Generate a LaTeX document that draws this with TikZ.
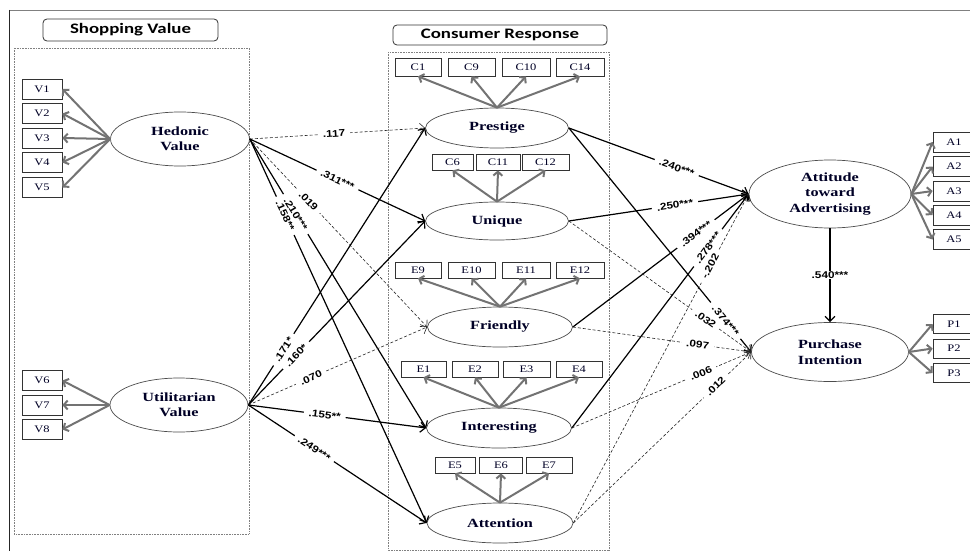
\documentclass[tikz,border=0pt]{standalone}
\usepackage{fontspec}
\setmainfont{Liberation Serif}
\newfontfamily\nodefnt{Liberation Serif Bold}[FakeStretch=1.3]
\newfontfamily\indfnt{Liberation Serif}[FakeStretch=1.25]
\newfontfamily\labfnt{Liberation Sans Bold}[FakeStretch=1.2]
\newfontfamily\titfnt{Carlito Bold}[FakeStretch=1.3]
\usetikzlibrary{arrows.meta,shapes.geometric}
\begin{document}
\begin{tikzpicture}[x=1pt,y=-1pt,
  lat/.style={ellipse, draw=black!70, line width=0.7pt, inner sep=0pt, align=center,
    font=\nodefnt\fontsize{12.5}{15.5}\selectfont, text=black!85!blue},
  ind/.style={rectangle, draw=black!80, line width=0.7pt, inner sep=0pt, minimum height=16pt,
    font=\indfnt\fontsize{10}{12}\selectfont, text=black!85!blue},
  titbox/.style={rectangle, rounded corners=4pt, draw=black!80, line width=0.8pt, inner sep=0pt,
    font=\titfnt\fontsize{14.5}{17}\selectfont},
  sol/.style={draw=black, line width=1.2pt, -{Straight Barb[length=5pt,width=10pt]}},
  dsh/.style={draw=black!85, line width=0.6pt, dash pattern=on 3pt off 2pt, -{Straight Barb[length=5pt,width=10pt]}},
  mea/.style={draw=black!55, line width=2pt, -{Straight Barb[length=4pt,width=9pt]}},
  lab/.style={sloped, fill=white, inner xsep=5pt, inner ysep=0.5pt,
    font=\labfnt\fontsize{9.8}{10}\selectfont},
  frm/.style={draw=black!50, line width=0.8pt, dash pattern=on 0.8pt off 0.8pt}
]
\useasboundingbox (0,0) rectangle (970,551);
\fill[white] (0,0) rectangle (970,551);
% outer frame
\draw[black!50, line width=0.8pt] (9,10) -- (975,10);
\draw[black!85, line width=1pt] (9,10) -- (9,560);
% group frames
\draw[frm] (14,48) rectangle (249,534);
\draw[frm] (388,52) rectangle (609,550);
\node[titbox, minimum width=175pt, minimum height=22pt] (tsv) at (130.5,30) {Shopping Value};
\node[titbox, minimum width=214pt, minimum height=20pt] (tcr) at (500,35) {Consumer Response};

% latent variables
\node[lat, minimum width=139pt, minimum height=54pt] (hed) at (180,139) {Hedonic\\Value};
\node[lat, minimum width=138pt, minimum height=54pt] (uti) at (179,405) {Utilitarian\\Value};
\node[lat, minimum width=143pt, minimum height=40pt] (pre) at (497,128) {Prestige};
\node[lat, minimum width=143pt, minimum height=38pt] (uni) at (497,221) {Unique};
\node[lat, minimum width=145pt, minimum height=40pt] (fri) at (500,327) {Friendly};
\node[lat, minimum width=145pt, minimum height=40pt] (int) at (499,428) {Interesting};
\node[lat, minimum width=146pt, minimum height=40pt] (att) at (500,523) {Attention};
\node[lat, minimum width=162pt, minimum height=68pt] (atd) at (830,194) {Attitude\\toward\\Advertising};
\node[lat, minimum width=157pt, minimum height=59pt] (pur) at (830,352) {Purchase\\Intention};

% indicators
\foreach \n/\y in {V1/89,V2/113.5,V3/138,V4/162.5,V5/187.5,V6/380.5,V7/405,V8/429.5}
  \node[ind, minimum width=40pt, minimum height=20pt] (\n) at (42,\y) {\n};
\foreach \n/\x/\w in {C1/418/46,C9/471.5/47,C10/526/48,C14/580/48}
  \node[ind, minimum width=\w pt, minimum height=18pt] (\n) at (\x,67) {\n};
\foreach \n/\x/\w in {C6/452.5/41,C11/498/44,C12/545.5/47}
  \node[ind, minimum width=\w pt] (\n) at (\x,162) {\n};
\foreach \n/\x/\w in {E9/418/46,E10/471.5/47,E11/526/48,E12/580/48}
  \node[ind, minimum width=\w pt] (\n) at (\x,270) {\n};
\foreach \n/\x/\w in {E1/423.5/45,E2/475/46,E3/526.5/47,E4/579/46}
  \node[ind, minimum width=\w pt] (\n) at (\x,369) {\n};
\foreach \n/\x/\w in {E5/455/40,E6/501/43,E7/549/46}
  \node[ind, minimum width=\w pt] (\n) at (\x,465) {\n};
\foreach \n/\y in {A1/142,A2/166.5,A3/191,A4/215,A5/239.5}
  \node[ind, minimum width=42pt, minimum height=20pt] (\n) at (954,\y) {\n};
\foreach \n/\y in {P1/324,P2/348.5,P3/373}
  \node[ind, minimum width=42pt, minimum height=19pt] (\n) at (954,\y) {\n};

% measurement arrows
\foreach \n in {V1,V2,V3,V4,V5} \draw[mea] (hed.west) -- (\n.east);
\foreach \n in {V6,V7,V8} \draw[mea] (uti.west) -- (\n.east);
\foreach \n in {C1,C9,C10,C14} \draw[mea] (pre.north) -- (\n.south);
\foreach \n in {C6,C11,C12} \draw[mea] (uni.north) -- (\n.south);
\foreach \n in {E9,E10,E11,E12} \draw[mea] (fri.north) -- (\n.south);
\foreach \n in {E1,E2,E3,E4} \draw[mea] (int.north) -- (\n.south);
\foreach \n in {E5,E6,E7} \draw[mea] (att.north) -- (\n.south);
\foreach \n in {A1,A2,A3,A4,A5} \draw[mea] (atd.east) -- (\n.west);
\foreach \n in {P1,P2,P3} \draw[mea] (pur.east) -- (\n.west);

% structural paths from Hedonic Value
\draw[dsh] (hed.east) -- node[lab,pos=0.48]{.117} (pre.west);
\draw[sol] (hed.east) -- node[lab,pos=0.5]{.311***} (uni.west);
\draw[dsh] (hed.east) -- node[lab,pos=0.33]{.019} (fri.west);
\draw[sol] (hed.east) -- node[lab,pos=0.26]{.210***} (int.west);
\draw[sol] (hed.east) -- node[lab,pos=0.2]{.158**} (att.west);
% from Utilitarian Value
\draw[sol] (uti.east) -- node[lab,pos=0.2]{.171*} (pre.west);
\draw[sol] (uti.east) -- node[lab,pos=0.27]{.160*} (uni.west);
\draw[dsh] (uti.east) -- node[lab,pos=0.35]{.070} (fri.west);
\draw[sol] (uti.east) -- node[lab,pos=0.43]{.155**} (int.west);
\draw[sol] (uti.east) -- node[lab,pos=0.37]{.249***} (att.west);
% to Attitude toward Advertising
\draw[sol] (pre.east) -- node[lab,pos=0.6]{.240***} (atd.west);
\draw[sol] (uni.east) -- node[lab,pos=0.59]{.250***} (atd.west);
\draw[sol] (fri.east) -- node[lab,pos=0.7]{.394***} (atd.west);
\draw[sol] (int.east) -- node[lab,pos=0.77]{.278***} (atd.west);
\draw[dsh] (att.east) -- node[lab,pos=0.78]{-.202} (atd.west);
% to Purchase Intention
\draw[sol] (pre.east) -- node[lab,pos=0.86]{.374***} (pur.west);
\draw[dsh] (uni.east) -- node[lab,pos=0.75]{.032} (pur.west);
\draw[dsh] (fri.east) -- node[lab,pos=0.7]{.097} (pur.west);
\draw[dsh] (int.east) -- node[lab,pos=0.72]{.006} (pur.west);
\draw[dsh] (att.east) -- node[lab,pos=0.8]{.012} (pur.west);
% Attitude -> Purchase
\draw[sol] (atd.south) -- node[lab,sloped=false,pos=0.5]{.540***} (pur.north);
\end{tikzpicture}
\end{document}
